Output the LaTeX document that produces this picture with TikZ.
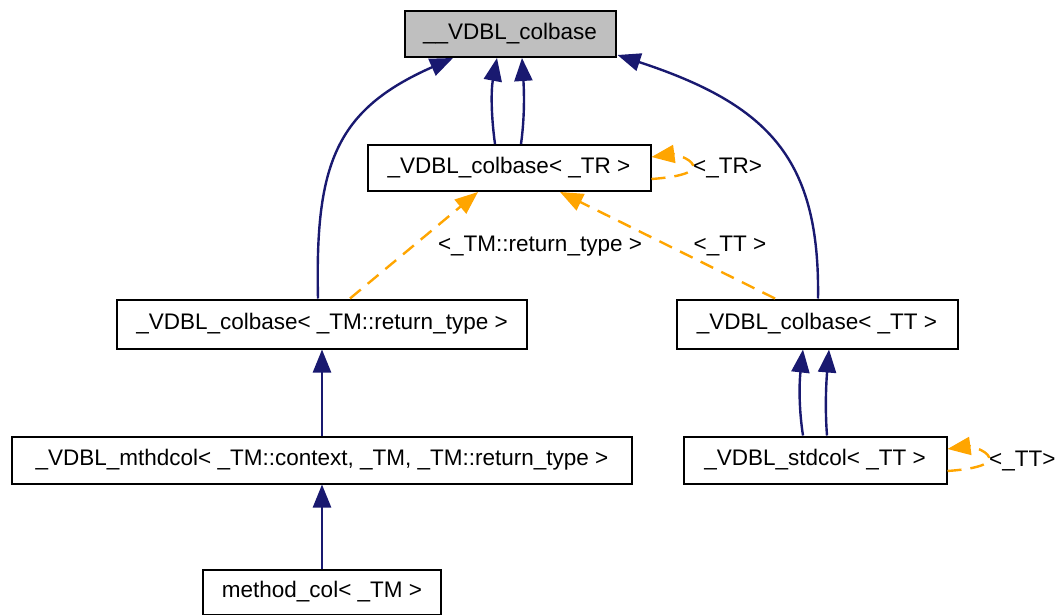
\documentclass[tikz,border=0pt]{standalone}
\usepackage{fontspec}
\setmainfont{Liberation Sans}
\usetikzlibrary{arrows.meta}
\definecolor{edgeblue}{HTML}{191970}
\definecolor{tplorange}{HTML}{FFA500}
\definecolor{boxgray}{HTML}{BFBFBF}
\tikzset{
  cls/.style={draw=black,line width=2pt,fill=white,minimum height=46pt,inner sep=2pt,font=\fontsize{22.5}{26}\selectfont},
  inh/.style={draw=edgeblue,line width=2.4pt,-{Triangle[length=23pt,width=18pt]}},
  tpl/.style={draw=tplorange,line width=2.4pt,dash pattern=on 14pt off 9pt,-{Triangle[length=23pt,width=18pt]}},
  lbl/.style={font=\fontsize{22.5}{26}\selectfont,inner sep=1pt}
}
\begin{document}
\begin{tikzpicture}[x=1pt,y=-1pt]
\useasboundingbox (0,0) rectangle (1059,615);

% Classes
\node[cls,fill=boxgray,minimum width=211pt] (base) at (510,34) {\_\_VDBL\_colbase};
\node[cls,minimum width=283pt] (trcol) at (509,168) {\_VDBL\_colbase< \_TR >};
\node[cls,minimum width=410pt,minimum height=49pt] (tmcol) at (322,324) {\_VDBL\_colbase< \_TM::return\_type >};
\node[cls,minimum width=281pt,minimum height=49pt] (ttcol) at (817,324) {\_VDBL\_colbase< \_TT >};
\node[cls,minimum width=620pt,minimum height=47pt] (mthd) at (322,460) {\_VDBL\_mthdcol< \_TM::context, \_TM, \_TM::return\_type >};
\node[cls,minimum width=263pt,minimum height=47pt] (stdcol) at (815,460) {\_VDBL\_stdcol< \_TT >};
\node[cls,minimum width=238pt,minimum height=45pt] (methcol) at (322,592) {method\_col< \_TM >};

% Inheritance
\draw[inh] ([xshift=-4pt]tmcol.north) .. controls (315,165) and (335,110) .. ([xshift=-57pt]base.south);
\draw[inh] ([xshift=-14pt]trcol.north) .. controls (491,115) and (491,90) .. ([xshift=-13pt]base.south);
\draw[inh] ([xshift=12pt]trcol.north) .. controls (525,115) and (524,90) .. ([xshift=12pt]base.south);
\draw[inh] ([xshift=1pt]ttcol.north) .. controls (820,160) and (770,105) .. ([xshift=1pt,yshift=3pt]base.south east);
\draw[inh] (mthd) -- (tmcol);
\draw[inh] (methcol) -- (mthd);
\draw[inh] ([xshift=-12pt]stdcol.north) .. controls (799,410) and (799,385) .. ([xshift=-14pt]ttcol.south);
\draw[inh] ([xshift=12pt]stdcol.north) .. controls (825,410) and (826,385) .. ([xshift=12pt]ttcol.south);

% Template instances
\draw[tpl] ([xshift=28pt]tmcol.north) -- ([xshift=-31pt]trcol.south);
\draw[tpl] ([xshift=-42pt]ttcol.north) -- ([xshift=51pt]trcol.south);
\node[lbl] (lbltm) at (540,246) {<\_TM::return\_type >};
\node[lbl] (lbltt) at (730,246) {<\_TT >};

% Self loops
\draw[tpl] ([yshift=-11pt]trcol.east) .. controls (680,177) and (696,172) .. (693,165) .. controls (690,158) and (674,154) .. ([yshift=11pt]trcol.east);
\node[lbl,anchor=west] (lbltr) at (692,168) {<\_TR>};
\draw[tpl] ([yshift=-11pt]stdcol.east) .. controls (976,469) and (992,464) .. (989,457) .. controls (986,450) and (970,446) .. ([yshift=11pt]stdcol.east);
\node[lbl,anchor=west] (lblstd) at (988,461) {<\_TT>};
\end{tikzpicture}
\end{document}
